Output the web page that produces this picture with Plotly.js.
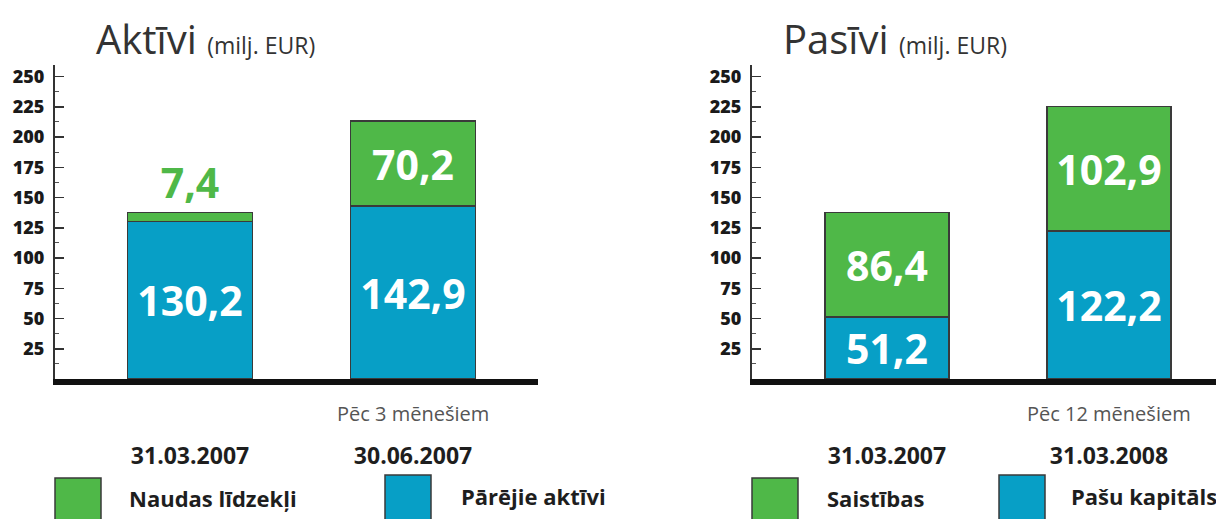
<!DOCTYPE html>
<html>
<head>
<meta charset="utf-8">
<script src="https://cdn.plot.ly/plotly-3.0.1.min.js"></script>
<style>html,body{margin:0;padding:0;background:#fff;}#chart{width:1216px;height:519px;}</style>
</head>
<body>
<div id="chart"></div>
<script>
// ---- data ----
const leftTitle = 'Aktīvi';
const rightTitle = 'Pasīvi';
const unitLabel = '(milj. EUR)';

const leftCategories = ['31.03.2007', '30.06.2007'];
const leftNotes = ['', 'Pēc 3 mēnešiem'];
const naudasLidzekli = [7.4, 70.2];      // green (top)
const parejieAktivi = [130.2, 142.9];    // blue (bottom)
const leftSeriesNames = ['Naudas līdzekļi', 'Pārējie aktīvi'];

const rightCategories = ['31.03.2007', '31.03.2008'];
const rightNotes = ['', 'Pēc 12 mēnešiem'];
const saistibas = [86.4, 102.9];         // green (top)
const pasuKapitals = [51.2, 122.2];      // blue (bottom)
const rightSeriesNames = ['Saistības', 'Pašu kapitāls'];

const yTickValues = [25, 50, 75, 100, 125, 150, 175, 200, 225, 250];

// ---- styles ----
const GREEN = '#4fb848';
const BLUE = '#079fc6';
const OUTLINE = '#3a3a3a';
const FONT = 'Open Sans';
const W = 1216, H = 519;
const px = v => v / W;
const py = v => (H - v) / H;

const valueFont = {family: FONT, size: 41, color: '#ffffff', weight: 700};

function barTrace(xa, ya, xs, ys, color, name, positions) {
  return {
    type: 'bar', x: xs.map((_, i) => i), y: ys, name: name,
    xaxis: xa, yaxis: ya, width: 0.56,
    marker: {color: color, line: {color: OUTLINE, width: 1.5}},
    texttemplate: '%{y:.1f}',
    textposition: positions || 'inside',
    insidetextanchor: 'middle',
    constraintext: 'none',
    insidetextfont: valueFont,
    outsidetextfont: {family: FONT, size: 41, color: GREEN, weight: 700},
    cliponaxis: false,
    hoverinfo: 'skip'
  };
}

const traces = [
  barTrace('x', 'y', leftCategories, parejieAktivi, BLUE, leftSeriesNames[1]),
  barTrace('x', 'y', leftCategories, naudasLidzekli, GREEN, leftSeriesNames[0], ['outside', 'inside']),
  barTrace('x2', 'y2', rightCategories, pasuKapitals, BLUE, rightSeriesNames[1]),
  barTrace('x2', 'y2', rightCategories, saistibas, GREEN, rightSeriesNames[0])
];

function yAxis(domainX) {
  return {
    domain: [py(379), py(65)], range: [0, 259.5], anchor: domainX,
    showgrid: false, zeroline: false,
    showline: true, linecolor: '#333', linewidth: 2,
    tickmode: 'array', tickvals: yTickValues,
    ticks: 'inside', ticklen: 9, tickwidth: 1.5, tickcolor: '#333',
    minor: {tickmode: 'linear', tick0: 0, dtick: 12.5, ticks: 'inside', ticklen: 4, tickwidth: 1, tickcolor: '#555'},
    tickfont: {family: FONT, size: 18, color: '#1a1a1a', weight: 800},
    ticklabelstandoff: 5,
    fixedrange: true
  };
}
function xAxis(domain, range, cats, yname) {
  return {
    domain: domain, range: range, anchor: yname,
    showgrid: false, zeroline: false,
    showline: true, linecolor: '#111', linewidth: 6,
    tickmode: 'array', tickvals: cats.map((_, i) => i), ticktext: cats,
    ticks: '', tickfont: {family: FONT, size: 23, color: '#1e1e1e', weight: 700},
    ticklabelstandoff: 51,
    fixedrange: true
  };
}

const annotations = [];
function addTitle(xLeft, title) {
  annotations.push({
    xref: 'paper', yref: 'paper', x: px(xLeft), y: py(38), xanchor: 'left', yanchor: 'middle',
    text: title + ' <span style="font-size:23px">' + unitLabel + '</span>',
    showarrow: false, font: {family: FONT, size: 40, color: '#333'}
  });
}
addTitle(94, leftTitle);
addTitle(781, rightTitle);

function addNotes(xref, notes) {
  notes.forEach((n, i) => {
    if (!n) return;
    annotations.push({
      xref: xref, yref: 'paper', x: i, y: py(413), xanchor: 'center', yanchor: 'middle',
      text: n, showarrow: false, font: {family: FONT, size: 20, color: '#555'}
    });
  });
}
addNotes('x', leftNotes);
addNotes('x2', rightNotes);

const shapes = [];
function addLegend(sqLeft, sqTop, textLeft, textY, color, label) {
  shapes.push({
    type: 'rect', xref: 'paper', yref: 'paper',
    x0: px(sqLeft), x1: px(sqLeft + 46), y0: py(sqTop), y1: py(H + 10),
    fillcolor: color, line: {color: OUTLINE, width: 1.5}
  });
  annotations.push({
    xref: 'paper', yref: 'paper', x: px(textLeft), y: py(textY), xanchor: 'left', yanchor: 'middle',
    text: label, showarrow: false, font: {family: FONT, size: 22, color: '#1e1e1e', weight: 700}
  });
}
addLegend(55, 478, 127, 498, GREEN, leftSeriesNames[0]);
addLegend(385, 475, 459, 496, BLUE, leftSeriesNames[1]);
addLegend(752, 478, 825, 498, GREEN, rightSeriesNames[0]);
addLegend(999, 475, 1069, 496, BLUE, rightSeriesNames[1]);

const layout = {
  width: W, height: H,
  margin: {l: 0, r: 0, t: 0, b: 0, pad: 0},
  paper_bgcolor: '#ffffff', plot_bgcolor: 'rgba(0,0,0,0)',
  showlegend: false, barmode: 'stack',
  separators: ', ',
  xaxis: xAxis([px(55), px(538)], [-0.6054, 1.5605], leftCategories, 'y'),
  yaxis: yAxis('x'),
  xaxis2: xAxis([px(752), 1], [-0.608, 1.482], rightCategories, 'y2'),
  yaxis2: yAxis('x2'),
  annotations: annotations,
  shapes: shapes
};

Plotly.newPlot('chart', traces, layout, {displayModeBar: false, staticPlot: true});
</script>
</body>
</html>
